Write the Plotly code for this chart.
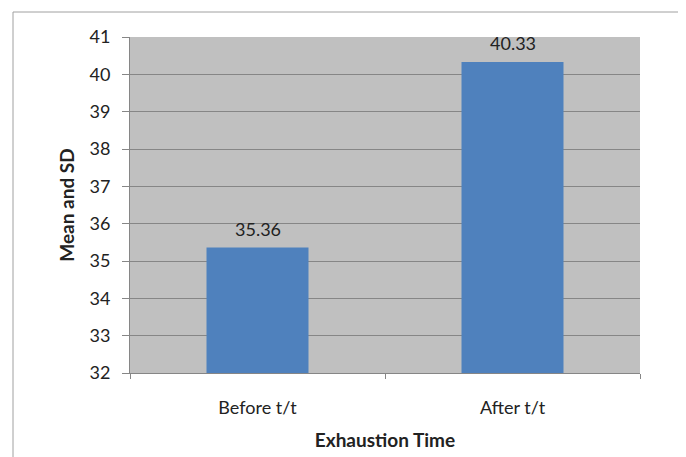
import plotly.graph_objects as go

categories = ["Before t/t", "After t/t"]
values = [35.36, 40.33]
value_labels = ["35.36", "40.33"]
y_ticks = [32, 33, 34, 35, 36, 37, 38, 39, 40, 41]
y_base = 32

FONT = "Lato, 'Open Sans', sans-serif"
TXT = "#222222"

# page is offset by 8px body margin in the browser; margins compensate
W, H = 686, 457
ML, MR, MT, MB = 122, 54, 29, 92
PW, PH = W - ML - MR, H - MT - MB

fig = go.Figure()
fig.add_trace(go.Bar(
    x=categories, y=[v - y_base for v in values],
    base=y_base,
    marker=dict(color="#4F81BD", line=dict(width=0)),
    width=0.4,
    hoverinfo="skip",
))

annotations = [
    dict(x=c, y=v, xref="x", yref="y", text=t, showarrow=False,
         yshift=19, yanchor="middle",
         font=dict(family=FONT, size=18, color=TXT))
    for c, v, t in zip(categories, values, value_labels)
]

bx, by = 5, 4  # border line positions in figure px
fig.update_layout(
    width=W, height=H,
    margin=dict(l=ML, r=MR, t=MT, b=MB),
    paper_bgcolor="white",
    plot_bgcolor="#C0C0C0",
    showlegend=False,
    font=dict(family=FONT, color=TXT),
    annotations=annotations,
    xaxis=dict(
        type="category",
        tickson="boundaries",
        ticks="outside", ticklen=5, tickcolor="#868686",
        showline=True, linecolor="#868686", linewidth=1,
        showgrid=False,
        ticklabelstandoff=18,
        tickfont=dict(family=FONT, size=18, color=TXT),
        title=dict(text="<b>Exhaustion Time</b>", font=dict(family=FONT, size=19, color=TXT), standoff=17),
    ),
    yaxis=dict(
        range=[32, 41],
        tickvals=y_ticks,
        ticks="outside", ticklen=7, tickcolor="#868686",
        showline=True, linecolor="#868686", linewidth=1,
        showgrid=True, gridcolor="#868686", gridwidth=1,
        zeroline=False,
        ticklabelstandoff=8,
        tickfont=dict(family=FONT, size=18, color=TXT),
        title=dict(text="<b>Mean and SD</b>", font=dict(family=FONT, size=19, color=TXT), standoff=9),
    ),
    shapes=[
        dict(type="line", xref="paper", yref="paper",
             x0=(bx - ML) / PW, x1=(W + 20 - ML) / PW,
             y0=(H - MB - by) / PH, y1=(H - MB - by) / PH,
             line=dict(color="#a0a0a0", width=1)),
        dict(type="line", xref="paper", yref="paper",
             x0=(bx - ML) / PW, x1=(bx - ML) / PW,
             y0=(H - MB - by) / PH, y1=-(MB + 20) / PH,
             line=dict(color="#a0a0a0", width=1)),
    ],
)

fig.write_html("out.html")
